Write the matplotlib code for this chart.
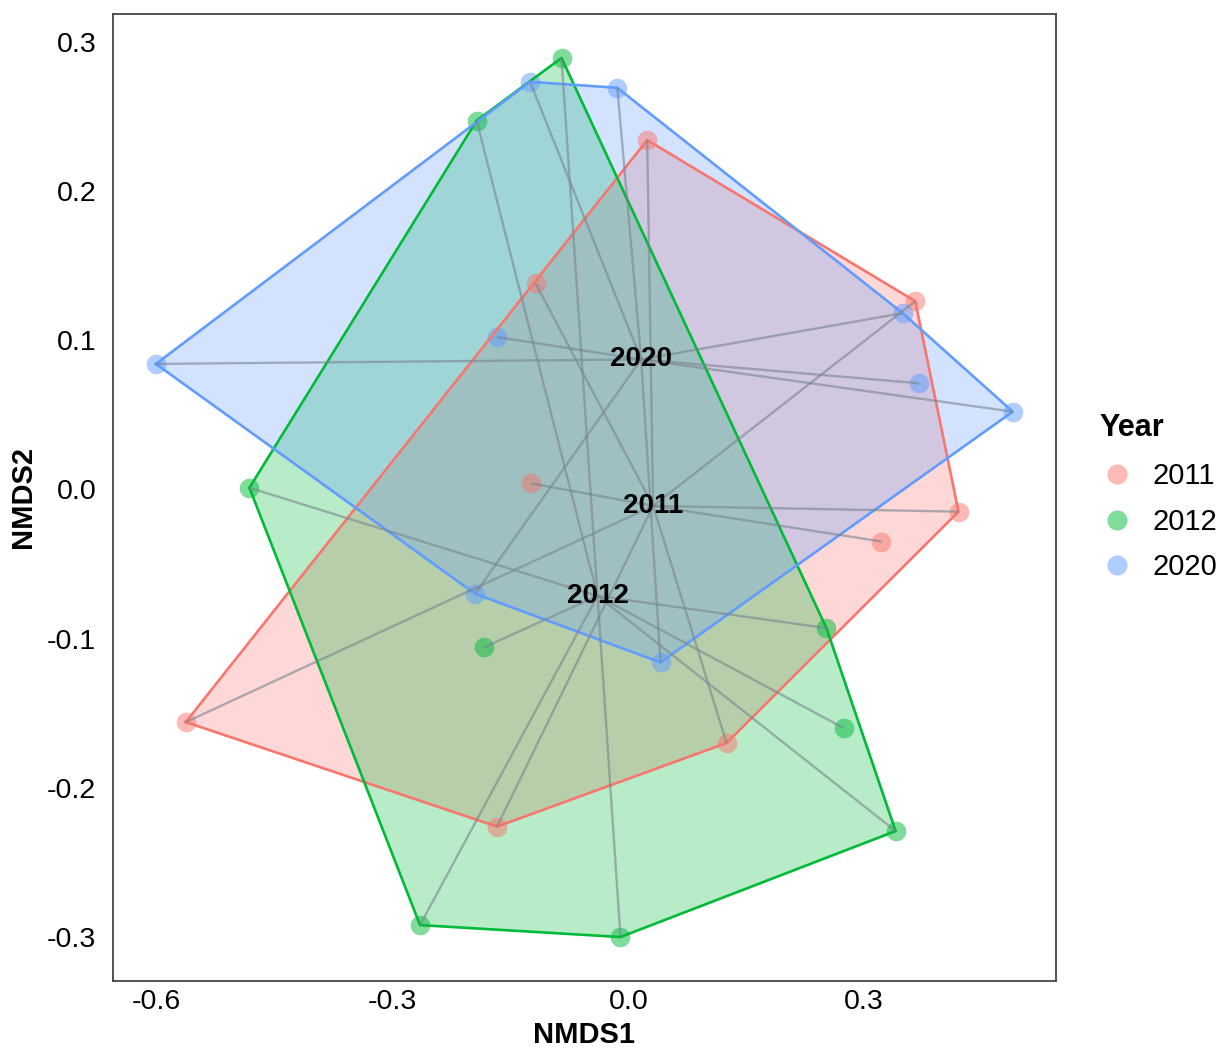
import numpy as np
import matplotlib
matplotlib.use("Agg")
import matplotlib.pyplot as plt
from matplotlib.lines import Line2D

plt.rcParams['font.family'] = ['Liberation Sans', 'DejaVu Sans']

years = ["2011", "2012", "2020"]
colors = {"2011": "#F8766D", "2012": "#00BA38", "2020": "#619CFF"}

nmds1_2011 = [0.024, -0.118, 0.365, -0.124, 0.420, 0.322, -0.563, 0.125, -0.167]
nmds2_2011 = [0.234, 0.138, 0.126, 0.004, -0.015, -0.035, -0.156, -0.170, -0.226]

nmds1_2012 = [-0.085, -0.193, -0.482, -0.184, 0.252, 0.274, 0.340, -0.265, -0.010]
nmds2_2012 = [0.289, 0.247, 0.001, -0.106, -0.093, -0.160, -0.229, -0.292, -0.300]

nmds1_2020 = [-0.125, -0.014, -0.601, -0.167, 0.349, 0.370, 0.489, -0.195, 0.041]
nmds2_2020 = [0.273, 0.269, 0.084, 0.102, 0.118, 0.071, 0.052, -0.070, -0.116]

data = {
    "2011": (nmds1_2011, nmds2_2011),
    "2012": (nmds1_2012, nmds2_2012),
    "2020": (nmds1_2020, nmds2_2020),
}


def convex_hull(pts):
    pts = sorted(set(map(tuple, pts)))
    if len(pts) <= 2:
        return pts

    def cross(o, a, b):
        return (a[0] - o[0]) * (b[1] - o[1]) - (a[1] - o[1]) * (b[0] - o[0])

    lower = []
    for p in pts:
        while len(lower) >= 2 and cross(lower[-2], lower[-1], p) <= 0:
            lower.pop()
        lower.append(p)
    upper = []
    for p in reversed(pts):
        while len(upper) >= 2 and cross(upper[-2], upper[-1], p) <= 0:
            upper.pop()
        upper.append(p)
    return lower[:-1] + upper[:-1]


fig = plt.figure(figsize=(12.26, 10.52), dpi=100)
ax = fig.add_axes([0.0922, 0.0675, 0.7688, 0.9192])

# hull fills
for yr in years:
    x, y = data[yr]
    hull = np.array(convex_hull(list(zip(x, y))))
    ax.fill(hull[:, 0], hull[:, 1], color=colors[yr], alpha=0.28, lw=0, zorder=1)

# points
for yr in years:
    x, y = data[yr]
    ax.scatter(x, y, s=200, color=colors[yr], alpha=0.5, lw=0, zorder=2)

# hull outlines
for yr in years:
    x, y = data[yr]
    hull = np.array(convex_hull(list(zip(x, y))))
    hull = np.vstack([hull, hull[:1]])
    ax.plot(hull[:, 0], hull[:, 1], color=colors[yr], lw=1.9, zorder=3)

# spider segments from group centroids
centroids = {}
for yr in years:
    x, y = data[yr]
    cx, cy = np.mean(x), np.mean(y)
    centroids[yr] = (cx, cy)
    for xi, yi in zip(x, y):
        ax.plot([cx, xi], [cy, yi], color="#7A8490", alpha=0.6, lw=1.7,
                zorder=4, solid_capstyle="butt")

for yr in years:
    cx, cy = centroids[yr]
    ax.text(cx, cy, yr, ha="center", va="center", fontsize=20,
            fontweight="bold", color="black", zorder=5)

ax.margins(0.05)
ax.set_xticks([-0.6, -0.3, 0.0, 0.3])
ax.set_xticklabels(["-0.6", "-0.3", "0.0", "0.3"])
ax.set_yticks([-0.3, -0.2, -0.1, 0.0, 0.1, 0.2, 0.3])
ax.set_yticklabels(["-0.3", "-0.2", "-0.1", "0.0", "0.1", "0.2", "0.3"])
ax.tick_params(axis="x", length=0, labelsize=20.5, colors="black", pad=6)
ax.tick_params(axis="y", length=0, labelsize=20.5, colors="black", pad=12)
ax.set_xlabel("NMDS1", fontsize=21, fontweight="bold", labelpad=4)
ax.set_ylabel("NMDS2", fontsize=21, fontweight="bold", labelpad=7)
for sp in ax.spines.values():
    sp.set_color("#444444")
    sp.set_linewidth(1.3)

handles = [Line2D([], [], marker="o", ls="", markersize=14.5,
                  markerfacecolor=colors[yr], markeredgewidth=0, alpha=0.5)
           for yr in years]
leg = fig.legend(handles, years, title="Year", loc="center left",
                 bbox_to_anchor=(0.875, 1 - 497 / 1052), frameon=False,
                 fontsize=21,
                 title_fontproperties={"weight": "bold", "size": 22},
                 handletextpad=0.65, labelspacing=0.6, handlelength=1.2)
leg._legend_box.align = "left"
leg._legend_box.sep = 14

fig.savefig("out.png", dpi=100)
